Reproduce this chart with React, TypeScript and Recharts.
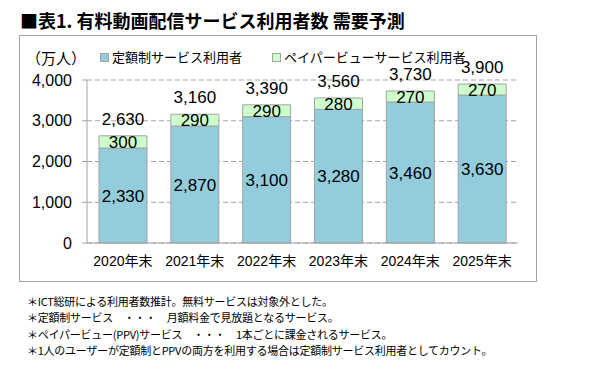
import { BarChart, Bar, XAxis, YAxis, CartesianGrid, LabelList } from 'recharts';

const categories = ['2020年末', '2021年末', '2022年末', '2023年末', '2024年末', '2025年末'];
const flatRate = [2330, 2870, 3100, 3280, 3460, 3630];
const payPerView = [300, 290, 290, 280, 270, 270];
const totals = [2630, 3160, 3390, 3560, 3730, 3900];
const yTicks = [0, 1000, 2000, 3000, 4000];

const title = '■表1. 有料動画配信サービス利用者数 需要予測';
const unitLabel = '（万人）';
const seriesNames = ['定額制サービス利用者', 'ペイパービューサービス利用者'];
const footnotes = [
  '＊ICT総研による利用者数推計。無料サービスは対象外とした。',
  '＊定額制サービス　・・・　月額料金で見放題となるサービス。',
  '＊ペイパービュー(PPV)サービス　・・・　1本ごとに課金されるサービス。',
  '＊1人のユーザーが定額制とPPVの両方を利用する場合は定額制サービス利用者としてカウント。',
];

const data = categories.map((name, i) => ({
  name,
  flat: flatRate[i],
  ppv: payPerView[i],
  total: totals[i],
}));
const edgeTicks = categories.map((_, i) => i).concat(categories.length);

const BLUE = '#93CDDD';
const GREEN = '#CCFFCC';
const GRAY = '#A3A3A3';
const numFont = '"Liberation Sans", Arial, sans-serif';
const jpFont = '"Noto Sans CJK JP", sans-serif';

const fmt = (v: any) => Number(v).toLocaleString('en-US');

export default function App() {
  return (
    <div style={{ position: 'absolute', left: 0, top: 0, width: 608, height: 368, background: '#fff', fontFamily: jpFont }}>
      <div style={{ position: 'absolute', left: 20, top: 8, fontSize: 18, fontWeight: 'bold', lineHeight: '24px', whiteSpace: 'nowrap' }}>
        {title}
      </div>
      <div style={{ position: 'absolute', left: 19, top: 35, width: 516, height: 245, border: `1px solid ${GRAY}` }} />

      <div style={{ position: 'absolute', left: 0, top: 0 }}>
        <BarChart width={608} height={368} data={data} margin={{ top: 80, right: 90, bottom: 95, left: 27 }} barSize={48}>
          <CartesianGrid horizontal vertical={false} stroke={GRAY} strokeDasharray="5 3" />
          <XAxis
            xAxisId="edges"
            type="number"
            domain={[0, categories.length]}
            ticks={edgeTicks}
            tick={false}
            tickLine={{ stroke: GRAY }}
            tickSize={5}
            axisLine={false}
            height={0}
          />
          <XAxis
            dataKey="name"
            tickLine={false}
            axisLine={{ stroke: GRAY }}
            tickSize={5}
            tickMargin={8}
            height={30}
            tick={{ fill: '#000', fontSize: 14, fontFamily: `"Liberation Sans", ${jpFont}` }}
          />
          <YAxis
            domain={[0, 4000]}
            ticks={yTicks}
            width={60}
            tickFormatter={fmt}
            axisLine={{ stroke: GRAY }}
            tickLine={{ stroke: GRAY }}
            tickSize={5}
            tickMargin={10}
            tick={{ fill: '#000', fontSize: 16, fontFamily: numFont }}
          />
          <Bar dataKey="flat" stackId="a" fill={BLUE} stroke={GRAY} isAnimationActive={false}>
            <LabelList dataKey="flat" position="center" formatter={fmt} fill="#000" fontSize={17} fontFamily={numFont} />
          </Bar>
          <Bar dataKey="ppv" stackId="a" fill={GREEN} stroke={GRAY} isAnimationActive={false}>
            <LabelList dataKey="ppv" position="center" formatter={fmt} fill="#000" fontSize={17} fontFamily={numFont} />
            <LabelList dataKey="total" position="top" offset={11} formatter={fmt} fill="#000" fontSize={17} fontFamily={numFont} />
          </Bar>
        </BarChart>
      </div>

      <div style={{ position: 'absolute', left: 26, top: 48, fontSize: 15, lineHeight: '20px' }}>{unitLabel}</div>
      {seriesNames.map((s, i) => (
        <div key={s} style={{ position: 'absolute', left: i === 0 ? 100 : 272, top: 50, display: 'flex', alignItems: 'center', fontSize: 13, lineHeight: '14px', whiteSpace: 'nowrap' }}>
          <span style={{ display: 'inline-block', width: 7, height: 7, background: i === 0 ? BLUE : GREEN, border: `1px solid ${GRAY}`, marginRight: 3 }} />
          {s}
        </div>
      ))}

      {footnotes.map((f, i) => (
        <div key={i} style={{ position: 'absolute', left: 27, top: 294 + i * 16.3, fontSize: 11, lineHeight: '15px', letterSpacing: -0.25, whiteSpace: 'nowrap' }}>
          {f}
        </div>
      ))}
    </div>
  );
}
